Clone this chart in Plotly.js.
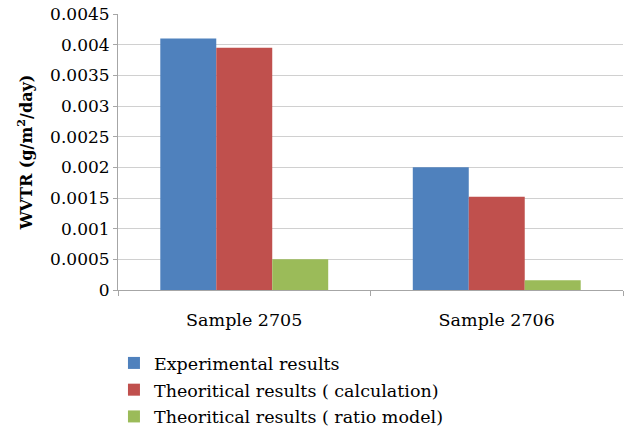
<!DOCTYPE html>
<html>
<head>
<meta charset="utf-8">
<script src="https://cdn.plot.ly/plotly-3.0.1.min.js"></script>
<style>html,body{margin:0;padding:0;background:#fff;}#chart{width:631px;height:439px;}</style>
</head>
<body>
<div id="chart"></div>
<script>
var categories = ["Sample 2705", "Sample 2706"];
var seriesNames = ["Experimental results", "Theoritical results ( calculation)", "Theoritical results ( ratio model)"];
var experimental = [0.0041, 0.0020];
var calculation = [0.00395, 0.00152];
var ratioModel = [0.0005, 0.00016];
var yTickVals = [0, 0.0005, 0.001, 0.0015, 0.002, 0.0025, 0.003, 0.0035, 0.004, 0.0045];
var yTickText = ["0", "0.0005", "0.001", "0.0015", "0.002", "0.0025", "0.003", "0.0035", "0.004", "0.0045"];

var colors = ["#4F81BD", "#C0504D", "#9BBB59"];
var values = [experimental, calculation, ratioModel];
var font = "DejaVu Serif";

var traces = values.map(function (v, i) {
  return {
    type: "bar",
    name: seriesNames[i],
    x: categories,
    y: v,
    marker: {color: colors[i], line: {width: 0}},
    legendgroup: "g" + i
  };
});

var layout = {
  width: 631, height: 439,
  margin: {l: 118, r: 8, t: 14, b: 149},
  paper_bgcolor: "#fff", plot_bgcolor: "#fff",
  barmode: "group", bargap: 0.335, bargroupgap: 0,
  font: {family: font, size: 17.5, color: "#000"},
  xaxis: {
    type: "category",
    showline: true, linecolor: "#A6A6A6", linewidth: 1,
    ticks: "outside", ticklen: 5, tickcolor: "#A6A6A6", tickson: "boundaries",
    ticklabelstandoff: 14,
    showgrid: false, tickfont: {family: font, size: 17.5, color: "#000"}
  },
  yaxis: {
    range: [0, 0.0045],
    tickvals: yTickVals, ticktext: yTickText,
    showline: true, linecolor: "#A6A6A6", linewidth: 1,
    ticks: "outside", ticklen: 4, tickcolor: "#A6A6A6",
    showgrid: true, gridcolor: "#D0D0D0", gridwidth: 1,
    zeroline: false,
    tickfont: {family: font, size: 17, color: "#000"},
    title: {text: "WVTR (g/m<sup>2</sup>/day)", font: {family: font, size: 16, color: "#000", weight: "bold"}, standoff: 13}
  },
  showlegend: true,
  legend: {
    orientation: "v", x: -0.008, xanchor: "left",
    yref: "container", y: 0.214, yanchor: "top",
    traceorder: "grouped", tracegroupgap: 1,
    font: {family: font, size: 17.5, color: "#000"},
    bgcolor: "rgba(0,0,0,0)"
  }
};

Plotly.newPlot("chart", traces, layout, {displayModeBar: false, staticPlot: true});
</script>
</body>
</html>
